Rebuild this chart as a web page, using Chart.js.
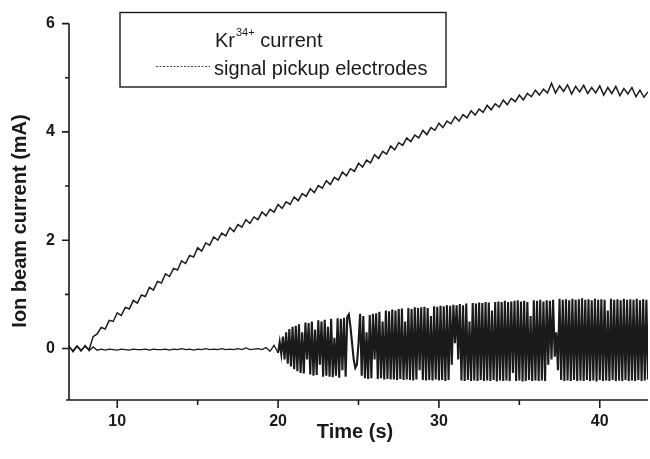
<!DOCTYPE html>
<html><head><meta charset="utf-8">
<script src="https://cdn.jsdelivr.net/npm/chart.js@4"></script>
<style>html,body{margin:0;padding:0;background:#fff}</style>
</head><body>
<canvas id="c" width="650" height="459"></canvas>
<script>
// ---- data ----
const xRange = [7, 43];
const yRange = [-0.95, 6];
const xMajorTicks = [10, 20, 30, 40];
const xMinorTicks = [15, 25, 35];
const yMajorTicks = [0, 2, 4, 6];
const yMinorTicks = [1, 3, 5];

const seriesLabels = ["Kr34+ current", "signal pickup electrodes"];

// Kr34+ current, sampled every 0.25 s from 7 s to 43 s
const krStart = 7, krStep = 0.25;
const krCurrent = [
  0.03, -0.04, 0.05, -0.03, 0.04, -0.02,
  0.22, 0.27, 0.39, 0.36, 0.52, 0.50,
  0.66, 0.61, 0.76, 0.73, 0.89, 0.84, 0.99, 0.96,
  1.13, 1.08, 1.24, 1.21, 1.38, 1.33, 1.48, 1.45,
  1.62, 1.57, 1.72, 1.69, 1.86, 1.80, 1.95, 1.91,
  2.06, 2.00, 2.13, 2.08, 2.23, 2.16, 2.29, 2.24,
  2.38, 2.31, 2.43, 2.38, 2.52, 2.45, 2.57, 2.52,
  2.66, 2.59, 2.71, 2.66, 2.80, 2.73, 2.86, 2.81,
  2.95, 2.88, 3.01, 2.96, 3.10, 3.03, 3.16, 3.11,
  3.26, 3.19, 3.32, 3.27, 3.42, 3.35, 3.48, 3.43,
  3.58, 3.51, 3.64, 3.59, 3.74, 3.67, 3.80, 3.75,
  3.89, 3.82, 3.94, 3.89, 4.03, 3.95, 4.08, 4.03,
  4.16, 4.08, 4.20, 4.15, 4.28, 4.20, 4.32, 4.26,
  4.39, 4.31, 4.42, 4.36, 4.49, 4.41, 4.52, 4.46,
  4.59, 4.50, 4.62, 4.56, 4.68, 4.59, 4.71, 4.65,
  4.77, 4.68, 4.79, 4.72, 4.90, 4.72, 4.85, 4.75,
  4.87, 4.70, 4.84, 4.74, 4.86, 4.71, 4.82, 4.72,
  4.85, 4.68, 4.82, 4.71, 4.84, 4.67, 4.80, 4.70,
  4.82, 4.65, 4.77, 4.64, 4.74
];

// signal pickup electrodes, quiet part: every 0.25 s from 7 s to 20 s
const pickupQuietStart = 7, pickupQuietStep = 0.25;
const pickupQuiet = [
  0.05, -0.06, 0.04, -0.05, 0.06, -0.04, 0.03, -0.03,
  -0.01, -0.03, -0.01, -0.02, -0.03, -0.01, -0.02, -0.03,
  -0.01, -0.02, -0.02, -0.01, -0.03, -0.01, -0.02, -0.02,
  -0.01, -0.03, -0.01, -0.02, 0.00, -0.02, -0.01, -0.03,
  -0.01, -0.02, 0.00, -0.02, -0.01, -0.02, 0.00, -0.02,
  -0.01, -0.02, 0.00, -0.02, 0.01, -0.02, -0.01, 0.00,
  -0.02, 0.02, -0.05, 0.06, -0.08
];

// signal pickup electrodes, oscillating part: every 0.1 s from 20.1 s to 43 s
const pickupBurstStart = 20.1, pickupBurstStep = 0.1;
const pickupBurst = [
  0.12, -0.10, 0.22, -0.20, 0.30, -0.28, 0.36, -0.33, 0.40, -0.38,
  0.42, -0.42, 0.45, -0.45, 0.30, -0.46, 0.48, -0.20, 0.47, -0.48,
  0.50, -0.50, 0.35, -0.49, 0.52, -0.30, 0.50, -0.52, 0.53, -0.50,
  0.40, -0.52, 0.55, -0.53, 0.20, -0.50, 0.56, -0.54, 0.55, -0.40,
  0.57, -0.52, 0.58, 0.63, 0.40, 0.10, -0.20, -0.36, -0.30, 0.10,
  0.64, -0.50, 0.60, -0.55, 0.30, -0.56, 0.62, -0.55, 0.64, -0.20,
  0.65, -0.56, 0.68, -0.55, 0.50, -0.57, 0.70, -0.56, 0.69, -0.57,
  0.72, -0.57, 0.70, -0.58, 0.73, -0.56, 0.74, -0.58, 0.50, -0.57,
  0.75, -0.58, 0.73, -0.59, 0.76, -0.57, 0.75, -0.40, 0.76, -0.58,
  0.77, -0.59, 0.75, -0.58, 0.60, -0.59, 0.78, -0.57, 0.77, -0.59,
  0.79, -0.58, 0.78, -0.60, 0.80, -0.58, 0.79, -0.30, 0.81, 0.10,
  0.80, -0.20, 0.82, -0.59, 0.80, -0.60, 0.83, -0.58, 0.50, -0.60,
  0.84, -0.59, 0.83, -0.60, 0.85, -0.58, 0.84, -0.60, 0.86, -0.59,
  0.85, -0.60, 0.70, -0.58, 0.86, -0.61, 0.87, -0.59, 0.86, -0.60,
  0.88, -0.59, 0.86, -0.60, 0.87, -0.45, 0.88, -0.60, 0.89, -0.59,
  0.87, -0.61, 0.88, -0.60, 0.86, -0.58, 0.60, -0.60, 0.89, -0.59,
  0.88, -0.60, 0.90, -0.59, 0.87, -0.60, 0.89, -0.30, 0.88, -0.20,
  0.90, -0.15, 0.30, -0.40, 0.92, -0.58, 0.90, -0.60, 0.91, -0.59,
  0.89, -0.60, 0.92, -0.58, 0.90, -0.60, 0.91, -0.59, 0.93, -0.60,
  0.90, -0.58, 0.91, -0.60, 0.89, -0.59, 0.92, -0.61, 0.90, -0.58,
  0.91, -0.60, 0.90, -0.59, 0.70, -0.60, 0.92, -0.58, 0.90, -0.60,
  0.91, -0.59, 0.89, -0.60, 0.92, -0.58, 0.90, -0.60, 0.91, -0.59,
  0.90, -0.60, 0.92, -0.58, 0.89, -0.60, 0.91, -0.59, 0.90, -0.57
];

// ---- build the library's point lists from the arrays ----
function sampled(start, step, values) {
  return values.map((v, i) => ({ x: +(start + i * step).toFixed(3), y: v }));
}
const krPoints = sampled(krStart, krStep, krCurrent);
const quietPoints = sampled(pickupQuietStart, pickupQuietStep, pickupQuiet);
const burstPoints = [quietPoints[quietPoints.length - 1]]
  .concat(sampled(pickupBurstStart, pickupBurstStep, pickupBurst));

const INK = '#1a1a1a';
const FONT = '"Liberation Sans", Arial, Helvetica, sans-serif';

const framePlugin = {
  id: 'frame',
  afterDatasetsDraw(chart) {
    const { ctx, chartArea: a, scales: { x, y } } = chart;
    ctx.save();
    ctx.strokeStyle = INK;
    ctx.lineWidth = 1.6;
    ctx.beginPath();
    ctx.moveTo(a.left, a.top); ctx.lineTo(a.left, a.bottom);
    ctx.moveTo(a.left - 3, a.bottom); ctx.lineTo(a.right, a.bottom);
    xMajorTicks.forEach(v => { const p = x.getPixelForValue(v); ctx.moveTo(p, a.bottom); ctx.lineTo(p, a.bottom + 8); });
    xMinorTicks.forEach(v => { const p = x.getPixelForValue(v); ctx.moveTo(p, a.bottom); ctx.lineTo(p, a.bottom + 5); });
    yMajorTicks.forEach(v => { const p = y.getPixelForValue(v); ctx.moveTo(a.left, p); ctx.lineTo(a.left - 7, p); });
    yMinorTicks.forEach(v => { const p = y.getPixelForValue(v); ctx.moveTo(a.left, p); ctx.lineTo(a.left - 4, p); });
    ctx.stroke();

    // axis titles
    ctx.fillStyle = INK;
    ctx.textAlign = 'center';
    ctx.textBaseline = 'middle';
    ctx.font = 'bold 20px ' + FONT;
    ctx.fillText('Time (s)', 355, 432);
    ctx.save();
    ctx.translate(20, 221);
    ctx.rotate(-Math.PI / 2);
    ctx.font = 'bold 20px ' + FONT;
    ctx.fillText('Ion beam current (mA)', 0, 0);
    ctx.restore();

    // legend box
    ctx.lineWidth = 1.4;
    ctx.strokeRect(120, 12.5, 326, 74.5);
    ctx.textAlign = 'left';
    ctx.textBaseline = 'alphabetic';
    ctx.font = '20px ' + FONT;
    ctx.fillText('Kr', 215, 47);
    const w = ctx.measureText('Kr').width;
    ctx.font = '11px ' + FONT;
    ctx.fillText('34+', 215 + w + 1, 36);
    const w2 = ctx.measureText('34+').width;
    ctx.font = '20px ' + FONT;
    ctx.fillText(' current', 215 + w + w2 + 1, 47);
    ctx.fillText(seriesLabels[1], 214, 75);
    ctx.setLineDash([2, 1.5]);
    ctx.lineWidth = 1;
    ctx.strokeStyle = '#444';
    ctx.beginPath();
    ctx.moveTo(156, 66.5); ctx.lineTo(210, 66.5);
    ctx.stroke();
    ctx.restore();
  }
};

new Chart(document.getElementById('c'), {
  type: 'line',
  data: {
    datasets: [
      { label: seriesLabels[0], data: krPoints, borderColor: INK, borderWidth: 1.5, pointRadius: 0, tension: 0, fill: false },
      { label: seriesLabels[1], data: quietPoints, borderColor: INK, borderWidth: 1.3, pointRadius: 0, tension: 0, fill: false },
      { label: seriesLabels[1], data: burstPoints, borderColor: INK, borderWidth: 2.1, pointRadius: 0, tension: 0, fill: false }
    ]
  },
  options: {
    responsive: false,
    animation: false,
    devicePixelRatio: 1,
    layout: { padding: { top: 15, right: 2, left: 0, bottom: 0 } },
    plugins: { legend: { display: false }, tooltip: { enabled: false } },
    scales: {
      x: {
        type: 'linear', min: xRange[0], max: xRange[1],
        grid: { display: false, drawTicks: false },
        border: { display: false },
        ticks: { padding: 12, color: INK, font: { family: FONT, size: 16, weight: 'bold' } },
        afterBuildTicks: s => { s.ticks = xMajorTicks.map(v => ({ value: v })); },
        afterFit: s => { s.height = 59; }
      },
      y: {
        type: 'linear', min: yRange[0], max: yRange[1],
        grid: { display: false, drawTicks: false },
        border: { display: false },
        ticks: { padding: 14, color: INK, font: { family: FONT, size: 16, weight: 'bold' } },
        afterBuildTicks: s => { s.ticks = yMajorTicks.map(v => ({ value: v })); },
        afterFit: s => { s.width = 69; }
      }
    }
  },
  plugins: [framePlugin]
});
</script>
</body></html>
